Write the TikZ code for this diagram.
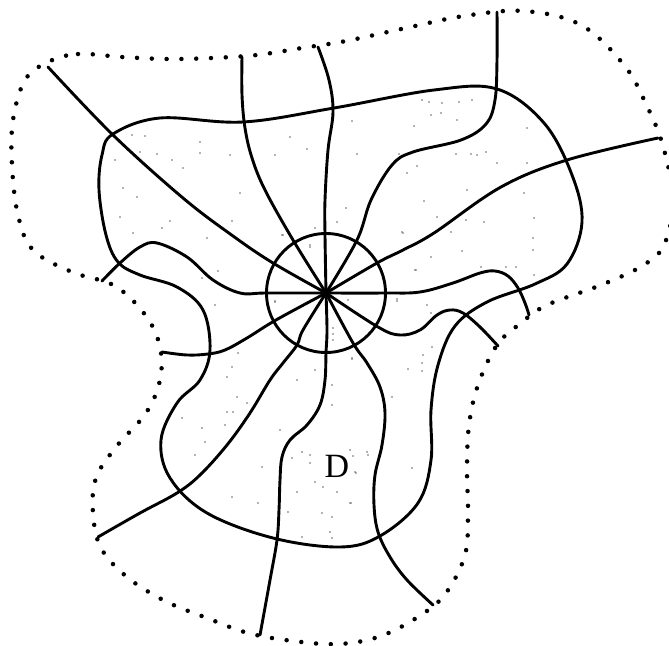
\documentclass[tikz,border=0pt]{standalone}
\usepackage{fontspec}
\newfontfamily\labelfont{Liberation Serif}
\begin{document}
\begin{tikzpicture}[x=1pt,y=-1pt,
  curve/.style={line width=2.9pt, line join=round, line cap=round},
  dotline/.style={line width=4.5pt, line cap=round, dash pattern=on 0pt off 14.8pt},
  speck/.style={fill=black!60}]
\useasboundingbox (0,0) rectangle (669,645);
\coordinate (C) at (326,293);
% outer dotted boundary
\draw[dotline] plot[smooth cycle, tension=0.6] coordinates {(48,62) (78,54) (122,57) (167,59) (212,58) (257,55) (302,48) (346,41) (406,28) (464,16) (524,11) (581,25) (624,65) (646,104) (663,146) (673,200) (664,245) (642,266) (601,285) (547,305) (521,323) (497,345) (478,385) (469,425) (467,470) (468,513) (465,555) (446,593) (421,615) (381,636) (339,644) (293,641) (248,633) (207,618) (165,601) (127,577) (101,548) (93,513) (96,478) (116,447) (146,413) (160,380) (160,347) (146,316) (115,286) (72,272) (33,250) (18,215) (12,165) (13,120) (25,80)};
% region D boundary
\draw[curve] plot[smooth cycle, tension=0.6] coordinates {(113,134) (160,118) (243,122) (334,108) (434,90) (497,89) (544,123) (572,175) (582,222) (567,264) (535,284) (487,302) (455,326) (438,365) (431,410) (431,460) (418,503) (380,536) (340,547) (273,538) (207,513) (170,478) (161,440) (177,403) (200,380) (210,350) (203,310) (177,287) (140,275) (118,262) (106,235) (99,190) (102,155)};
% circle
\draw[curve] (C) circle (59.5pt);
% rays
\draw[curve] plot[smooth, tension=0.6] coordinates {(C) (325,235) (325,200) (328,150) (333,112) (329,80) (318,47)};
\draw[curve] plot[smooth, tension=0.6] coordinates {(C) (293,240) (265,190) (252,158) (245,128) (242,95) (242,57)};
\draw[curve] plot[smooth, tension=0.6] coordinates {(C) (357,240) (371,200) (392,165) (413,152) (461,140) (486,124) (495,100) (497,60) (497,12)};
\draw[curve] plot[smooth, tension=0.6] coordinates {(C) (377,263) (403,250) (434,233) (501,187) (567,160) (658,138)};
\draw[curve] plot[smooth, tension=0.6] coordinates {(C) (385,293) (420,292) (453,283) (480,273) (495,271) (508,276) (518,288) (525,303) (529,315)};
\draw[curve] plot[smooth, tension=0.6] coordinates {(C) (378,327) (400,335) (420,330) (437,315) (450,310) (463,313) (480,327) (498,346)};
\draw[curve] plot[smooth, tension=0.6] coordinates {(C) (353,343) (367,363) (380,387) (385,413) (382,445) (375,475) (374,505) (378,532) (390,557) (407,580) (433,605)};
\draw[curve] plot[smooth, tension=0.6] coordinates {(C) (327,330) (326,353) (325,380) (320,405) (307,425) (290,440) (282,457) (280,480) (279,510) (277,540) (270,580) (260,635)};
\draw[curve] plot[smooth, tension=0.6] coordinates {(C) (303,330) (297,345) (283,363) (270,380) (250,413) (227,445) (200,475) (177,493) (140,513) (98,537)};
\draw[curve] plot[smooth, tension=0.6] coordinates {(C) (276,320) (247,338) (225,350) (208,354) (187,355) (162,352)};
\draw[curve] plot[smooth, tension=0.6] coordinates {(C) (266,293) (240,293) (213,280) (187,257) (157,243) (140,247) (120,263) (102,281)};
\draw[curve] plot[smooth, tension=0.6] coordinates {(C) (273,263) (233,236) (183,198) (113,135) (48,67)};
\fill (C) circle (4.5pt);
% stipple specks
\foreach \p in {(132,135),(145,136),(200,142),(200,153),(157,154),(140,152),(172,160),(183,168),(230,155),(275,155),(290,137),(307,149),(115,160),(123,188),(137,197),(120,217),(133,233),(162,228),(170,221),(240,193),(232,221),(207,238),(218,271),(202,278),(215,305),(275,302),(283,235),(310,247),(315,228),
(422,100),(429,102),(442,103),(459,102),(472,100),(457,120),(441,113),(431,115),(414,126),(352,121),(456,154),(471,154),(477,155),(486,152),(497,163),(527,128),(527,163),(524,193),(467,190),(424,201),(437,217),(402,232),(407,173),(417,166),(357,154),(399,154),(466,220),(484,222),(534,218),(533,238),(533,250),(534,275),(506,267),(516,267),(481,267),(462,251),(431,257),(416,270),(451,232),(346,208),(337,222),(397,299),(427,305),(431,313),
(238,353),(232,367),(227,377),(247,403),(227,412),(233,412),(225,425),(205,442),(202,428),(297,380),(280,430),(315,370),(332,385),(332,405),(352,359),(392,397),(408,369),(422,363),(422,371),(423,355),(432,347),(262,467),(292,458),(302,452),(310,455),(310,463),(350,450),(353,456),(367,452),(368,455),(412,468),
(315,482),(323,487),(355,472),(350,503),(297,492),(288,512),(258,503),(232,497),(332,517),(330,532),(332,538),(302,537),(182,418),(195,455),(237,397),(322,513),(356,473),(337,492),(351,503),
(310,245),(275,301),(348,300),(333,328),(333,334),(333,340),(397,301),(415,270),(403,233),(282,235),(352,358)}
  \fill[speck] \p circle (0.9pt);
\node[font=\labelfont\fontsize{34}{34}\selectfont, inner sep=0pt] (D) at (337,466) {D};
\end{tikzpicture}
\end{document}
